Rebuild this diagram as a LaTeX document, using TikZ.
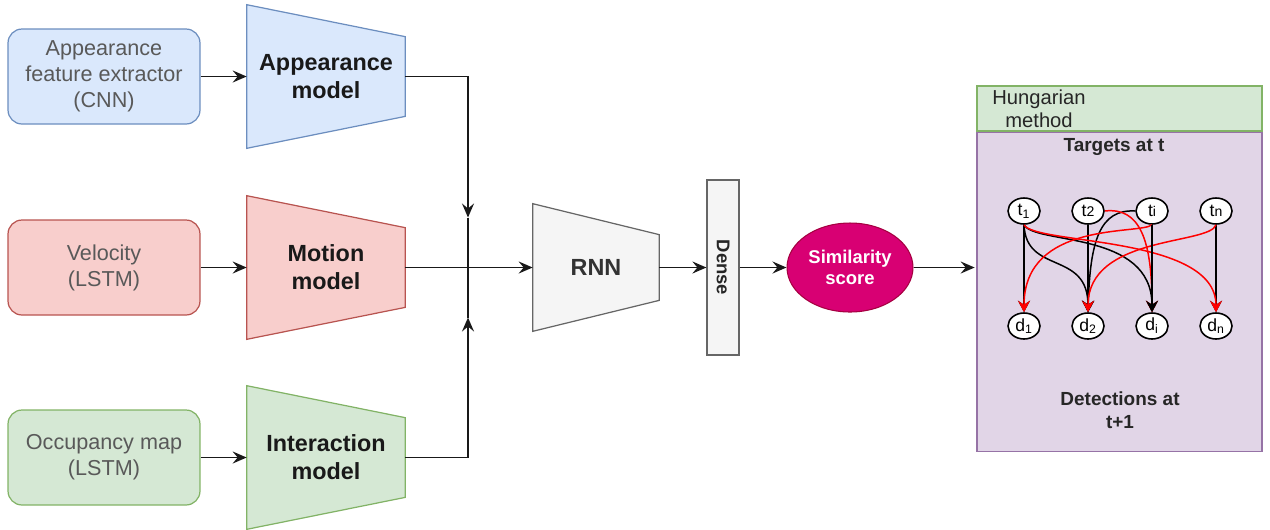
\documentclass[tikz,border=0pt]{standalone}
\usepackage{fontspec}
\setmainfont{Liberation Sans}
\usepackage{xcolor}
\usetikzlibrary{arrows.meta, positioning, shapes.geometric, backgrounds}

\definecolor{blueF}{HTML}{DAE8FC}
\definecolor{blueD}{HTML}{6C8EBF}
\definecolor{redF}{HTML}{F8CECC}
\definecolor{redD}{HTML}{B85450}
\definecolor{greenF}{HTML}{D5E8D4}
\definecolor{greenD}{HTML}{82B366}
\definecolor{grayF}{HTML}{F5F5F5}
\definecolor{grayD}{HTML}{666666}
\definecolor{purpleF}{HTML}{E1D5E7}
\definecolor{purpleD}{HTML}{9673A6}
\definecolor{simF}{HTML}{D80073}
\definecolor{simD}{HTML}{A50040}
\definecolor{edgeRed}{HTML}{FF0000}

\begin{document}
\begin{tikzpicture}[
    x=0.02cm, y=-0.02cm,
    input/.style={draw, line width=0.7pt, rounded corners=0.28cm, minimum width=3.84cm, minimum height=1.9cm, align=center, text=black!65, font=\fontsize{12.3}{14.8}\selectfont},
    model/.style={minimum width=3.16cm, minimum height=2.86cm, align=center, text=black!90, font=\fontsize{13.3}{16}\selectfont\bfseries},
    target/.style={draw, ellipse, fill=white, line width=0.9pt, minimum width=0.64cm, minimum height=0.52cm, inner sep=0pt, font=\fontsize{10}{12}\selectfont},
    note/.style={align=center, text=black!85, font=\fontsize{10.8}{13.3}\selectfont\bfseries},
    link/.style={-{Stealth[length=2.8mm, width=2.4mm, inset=1mm]}, line width=1pt, black!90},
    blk/.style={-{Stealth[length=2.3mm, width=2.4mm, inset=0.8mm]}, line width=0.85pt, black},
    rd/.style={-{Stealth[length=2.3mm, width=2.4mm, inset=0.8mm]}, line width=0.85pt, edgeRed},
]
\useasboundingbox (0,0) rectangle (1270,529);

% inputs
\node[input, fill=blueF, draw=blueD] (afe) at (104,76.5) {Appearance\\feature extractor\\(CNN)};
\node[input, fill=redF, draw=redD] (vel) at (104,267.5) {Velocity\\(LSTM)};
\node[input, fill=greenF, draw=greenD] (occ) at (104,457.5) {Occupancy map\\(LSTM)};

% models
\node[model] (apm) at (326,76.5) {Appearance\\model};
\node[model] (mom) at (326,267.5) {Motion\\model};
\node[model] (inm) at (326,457.5) {Interaction\\model};
\node[model, minimum width=2.52cm, minimum height=2.54cm, text=black!80] (rnn) at (596,267.5) {RNN};

\begin{scope}[on background layer]
\foreach \m/\c in {apm/blue, mom/red, inm/green}
  \draw[fill=\c F, draw=\c D, line width=0.7pt] (\m.north west) -- ([yshift=-0.64cm]\m.north east) -- ([yshift=0.64cm]\m.south east) -- (\m.south west) -- cycle;
\draw[fill=grayF, draw=grayD, line width=0.7pt] (rnn.north west) -- ([yshift=-0.62cm]rnn.north east) -- ([yshift=0.62cm]rnn.south east) -- (rnn.south west) -- cycle;
\end{scope}

% dense + score
\node[draw=grayD, fill=grayF, line width=0.7pt, rotate=-90, minimum width=3.5cm, minimum height=0.64cm, inner sep=0pt, text=black!85, font=\fontsize{10.5}{12}\selectfont\bfseries] (dense) at (723,267.5) {Dense};
\node[ellipse, draw=simD, fill=simF, line width=0.6pt, minimum width=2.52cm, minimum height=1.78cm, inner sep=0pt, align=center, text=white, font=\fontsize{10.5}{12.3}\selectfont\bfseries] (sim) at (850,267.5) {Similarity\\score};

% hungarian
\node[draw=greenD, fill=greenF, line width=0.7pt, minimum width=5.7cm, minimum height=0.9cm] (hhead) at (1119.5,108.5) {};
\node[draw=purpleD, fill=purpleF, line width=0.7pt, minimum width=5.7cm, minimum height=6.38cm, below=0pt of hhead] (hbox) {};
\node[align=center, text=black!85, font=\fontsize{11.5}{13.3}\selectfont] (hname) at (1039,108.5) {Hungarian\\method};
\node[note] (tgt) at (1114,147) {Targets at t};
\node[note] (det) at (1120,410) {Detections at\\t+1};

\node[target] (t1) at (1024,211) {t\textsubscript{1}};
\node[target] (t2) at (1088,211) {t{\footnotesize 2}};
\node[target] (ti) at (1152,211) {t{\footnotesize i}};
\node[target] (tn) at (1216,211) {t{\footnotesize n}};
\node[target] (d1) at (1024,326) {d\textsubscript{1}};
\node[target] (d2) at (1088,326) {d\textsubscript{2}};
\node[target] (di) at (1152,326) {d\textsubscript{i}};
\node[target] (dn) at (1216,326) {d\textsubscript{n}};

% main flow
\coordinate (junc) at (468,267.5);
\draw[link] (afe) -- (apm.west);
\draw[link] (vel) -- (mom.west);
\draw[link] (occ) -- (inm.west);
\draw[link] (apm.east) -| ([yshift=1cm]junc);
\draw[link] (inm.east) -| ([yshift=-1cm]junc);
\draw[line width=1pt, black!90] ([yshift=1cm]junc) -- ([yshift=-1cm]junc);
\draw[link] (mom.east) -- (rnn.west);
\draw[link] (rnn.east) -- (dense.south);
\draw[link] (dense.north) -- (sim.west);
\draw[link] (sim.east) -- ([xshift=-1pt]sim.east -| hbox.west);

% assignment edges
\draw[blk] (t1) -- (d1);
\draw[blk] (t2) -- (d2);
\draw[blk] (tn) -- (dn);
\draw[blk] (t1.south) .. controls (1026,275) and (1088,250) .. (d2.north);
\draw[blk] (t1.south) .. controls (1035,245) and (1152,230) .. (di.north);
\draw[blk] (ti.west) .. controls (1100,209) and (1090,240) .. (d2.north);
\draw[rd] (t1.south) .. controls (1035,245) and (1216,235) .. (dn.north);
\draw[rd] (t2.east) .. controls (1140,207) and (1152,240) .. (di.north);
\draw[rd] (ti.south) .. controls (1140,235) and (1024,220) .. (d1.north);
\draw[rd] (tn.south) .. controls (1210,245) and (1088,235) .. (d2.north);
\draw[blk] (ti) -- (di);

\end{tikzpicture}
\end{document}
